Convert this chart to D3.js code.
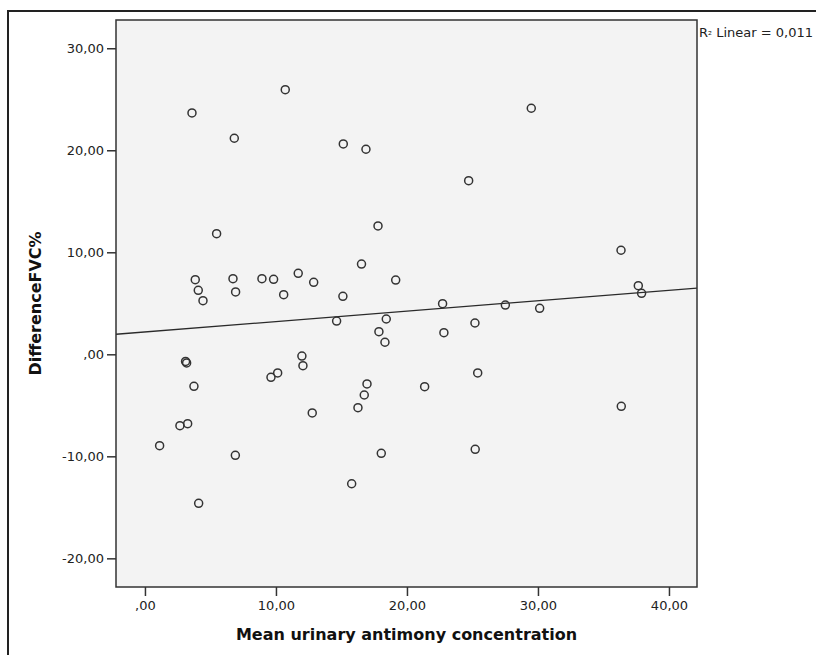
<!DOCTYPE html>
<html>
<head>
<meta charset="utf-8">
<script src="https://cdn.jsdelivr.net/npm/d3@7"></script>
<style>
  html, body { margin: 0; padding: 0; background: #ffffff; }
  svg { display: block; }
</style>
</head>
<body>
<svg id="chart" width="816" height="655"></svg>
<script>
// ---- Data ----
const urinaryAntimony = [
  10.71, 3.59, 6.82, 15.14, 16.87, 5.47, 16.53, 3.84, 6.72, 8.93,
  9.82, 11.70, 12.88, 4.07, 6.92, 4.43, 10.59, 15.11, 14.63, 3.10,
  3.18, 3.74, 11.98, 12.06, 10.13, 9.62, 16.95, 16.74, 16.26, 12.77,
  3.26, 2.67, 1.12, 6.90, 15.78, 4.10, 29.49, 24.71, 17.79, 19.14,
  36.34, 37.66, 37.91, 22.72, 27.51, 30.13, 18.42, 25.19, 17.86, 22.82,
  18.32, 25.40, 21.35, 36.36, 18.04, 25.21
];
const differenceFVC = [
  25.94, 23.66, 21.18, 20.62, 20.10, 11.82, 8.85, 7.31, 7.41, 7.41,
  7.35, 7.94, 7.06, 6.27, 6.11, 5.26, 5.84, 5.68, 3.26, -0.70,
  -0.85, -3.14, -0.17, -1.11, -1.83, -2.26, -2.90, -3.99, -5.23, -5.75,
  -6.80, -7.00, -8.96, -9.90, -12.69, -14.61, 24.12, 17.02, 12.58, 7.28,
  10.20, 6.73, 5.98, 4.96, 4.83, 4.51, 3.46, 3.07, 2.22, 2.12,
  1.18, -1.83, -3.17, -5.10, -9.71, -9.31
];
const xTicks = [0, 10, 20, 30, 40];
const xTickLabels = [",00", "10,00", "20,00", "30,00", "40,00"];
const yTicks = [-20, -10, 0, 10, 20, 30];
const yTickLabels = ["-20,00", "-10,00", ",00", "10,00", "20,00", "30,00"];
const fitIntercept = 2.19;
const fitSlope = 0.102;
const xTitle = "Mean urinary antimony concentration";
const yTitle = "DifferenceFVC%";
const fitLabel = "Linear = 0,011";

// ---- Layout ----
const svg = d3.select("#chart");
const plot = { left: 116, right: 697, top: 20, bottom: 587 };
const xDomain = [-2.21, 42.14];
const yDomain = [-22.81, 32.77];
const font = "'DejaVu Sans', 'Liberation Sans', sans-serif";

const x = d3.scaleLinear().domain(xDomain).range([plot.left, plot.right]);
const y = d3.scaleLinear().domain(yDomain).range([plot.bottom, plot.top]);

// outer frame (open to the right and bottom, as cropped in the reference)
svg.append("path")
  .attr("d", "M8,656 L8,11 L820,11")
  .attr("fill", "none")
  .attr("stroke", "#222")
  .attr("stroke-width", 2);

// plot background
svg.append("rect")
  .attr("x", plot.left).attr("y", plot.top)
  .attr("width", plot.right - plot.left)
  .attr("height", plot.bottom - plot.top)
  .attr("fill", "#f3f3f3");

// clip
svg.append("defs").append("clipPath").attr("id", "clip")
  .append("rect")
  .attr("x", plot.left).attr("y", plot.top)
  .attr("width", plot.right - plot.left)
  .attr("height", plot.bottom - plot.top);

// regression line
svg.append("line")
  .attr("clip-path", "url(#clip)")
  .attr("x1", x(xDomain[0])).attr("y1", y(fitIntercept + fitSlope * xDomain[0]))
  .attr("x2", x(xDomain[1])).attr("y2", y(fitIntercept + fitSlope * xDomain[1]))
  .attr("stroke", "#2a2a2a")
  .attr("stroke-width", 1.3);

// points
svg.append("g").attr("clip-path", "url(#clip)")
  .selectAll("circle")
  .data(urinaryAntimony.map((v, i) => [v, differenceFVC[i]]))
  .join("circle")
  .attr("cx", d => x(d[0]))
  .attr("cy", d => y(d[1]))
  .attr("r", 4)
  .attr("fill", "none")
  .attr("stroke", "#333")
  .attr("stroke-width", 1.5);

// plot border
svg.append("rect")
  .attr("x", plot.left).attr("y", plot.top)
  .attr("width", plot.right - plot.left)
  .attr("height", plot.bottom - plot.top)
  .attr("fill", "none")
  .attr("stroke", "#333")
  .attr("stroke-width", 1.5);

// x axis
const xAxis = d3.axisBottom(x)
  .tickValues(xTicks)
  .tickFormat((d, i) => xTickLabels[i])
  .tickSizeInner(9).tickSizeOuter(0).tickPadding(5);
const gx = svg.append("g").attr("transform", `translate(0,${plot.bottom})`).call(xAxis);
gx.select(".domain").remove();
gx.selectAll("line").attr("stroke", "#333").attr("stroke-width", 1.5);
gx.selectAll("text").attr("fill", "#222").style("font-family", font).style("font-size", "13px");

// y axis
const yAxis = d3.axisLeft(y)
  .tickValues(yTicks)
  .tickFormat((d, i) => yTickLabels[i])
  .tickSizeInner(9).tickSizeOuter(0).tickPadding(3);
const gy = svg.append("g").attr("transform", `translate(${plot.left},0)`).call(yAxis);
gy.select(".domain").remove();
gy.selectAll("line").attr("stroke", "#333").attr("stroke-width", 1.5);
gy.selectAll("text").attr("fill", "#222").style("font-family", font).style("font-size", "13px");

// axis titles
svg.append("text")
  .attr("x", (plot.left + plot.right) / 2)
  .attr("y", 640)
  .attr("text-anchor", "middle")
  .style("font-family", font)
  .style("font-size", "16px")
  .style("font-weight", "bold")
  .attr("fill", "#111")
  .text(xTitle);

svg.append("text")
  .attr("transform", `translate(41,${(plot.top + plot.bottom) / 2}) rotate(-90)`)
  .attr("text-anchor", "middle")
  .style("font-family", font)
  .style("font-size", "16px")
  .style("font-weight", "bold")
  .attr("fill", "#111")
  .text(yTitle);

// fit label
const fl = svg.append("text")
  .attr("x", plot.right + 2)
  .attr("y", 37)
  .style("font-family", font)
  .style("font-size", "13px")
  .attr("fill", "#222");
fl.append("tspan").text("R");
fl.append("tspan").attr("dy", 2).style("font-size", "10px").text("²");
fl.append("tspan").attr("dy", -2).text(" " + fitLabel);
</script>
</body>
</html>
